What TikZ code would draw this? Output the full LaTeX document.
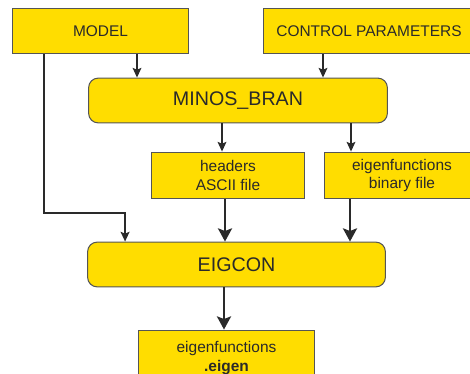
\documentclass[tikz,border=0pt]{standalone}
\usepackage{fontspec}
\setmainfont{Liberation Sans}
\usepackage{xcolor}
\usepackage{tikz}
\usetikzlibrary{calc,arrows.meta}
\definecolor{gold}{HTML}{FFDD00}
\definecolor{edge}{HTML}{555555}
\definecolor{ink}{HTML}{2A2A2A}
\tikzset{box/.style={draw=edge,line width=0.6pt,fill=gold,text=ink,inner sep=0pt,align=center,font=\fontsize{8.8}{10.8}\selectfont},
  prog/.style={box,rounded corners=5.5pt,font=\fontsize{11.2}{13}\selectfont},
  arr/.style={ink,line width=0.75pt,-{Stealth[length=5.5pt,width=5pt,inset=1pt]}},
  fatarr/.style={ink,line width=1.4pt,-{Stealth[length=7.5pt,width=8pt,inset=1.5pt]}}}

\begin{document}
\begin{tikzpicture}[x=0.02cm,y=-0.02cm]
\useasboundingbox (0,0) rectangle (470,374); \clip (0,0) rectangle (470,374);
\node[box,minimum width=177*0.5669pt,minimum height=46*0.5669pt] (model) at (100.5,31) {MODEL};
\node[box,minimum width=212*0.5669pt,minimum height=46*0.5669pt] (ctrl) at (369,31) {CONTROL PARAMETERS};
\node[prog,minimum width=300*0.5669pt,minimum height=45*0.5669pt] (minos) at (238,100.5) {MINOS\_BRAN};
\node[box,minimum width=154*0.5669pt,minimum height=47*0.5669pt] (hdr) at (228,175.5) {headers\\ASCII file};
\node[box,minimum width=156*0.5669pt,minimum height=47*0.5669pt] (bin) at (402,175.5) {eigenfunctions\\binary file};
\node[prog,minimum width=299*0.5669pt,minimum height=45*0.5669pt] (eigcon) at (236.5,264.5) {EIGCON};
\node[box,minimum width=177*0.5669pt,minimum height=56*0.5669pt] (eig) at (226.5,358) {eigenfunctions\\\textbf{.eigen}};
\draw[arr] ($(model.south)+(36.5,0)$) coordinate (m1) -- (m1 |- minos.north);
\draw[arr] ($(ctrl.south)+(-46,0)$) coordinate (c1) -- (c1 |- minos.north);
\draw[arr] ($(hdr.north)+(-6,0)$) coordinate (h1) (h1 |- minos.south) -- (h1);
\draw[arr] ($(bin.north)+(-51,0)$) coordinate (b1) (b1 |- minos.south) -- (b1);
\draw[fatarr] ($(hdr.south)+(-3,0)$) coordinate (h2) -- (h2 |- eigcon.north);
\draw[fatarr] ($(bin.south)+(-52,0)$) coordinate (b2) -- (b2 |- eigcon.north);
\draw[arr,line width=1.1pt] ($(model.south)+(-56.5,0)$) coordinate (m2) -- ++(0,159) -| ($(eigcon.north west)+(38,0)$);
\draw[fatarr] ($(eig.north)+(-2.5,0)$) coordinate (e1) (e1 |- eigcon.south) -- (e1);
\end{tikzpicture}
\end{document}
